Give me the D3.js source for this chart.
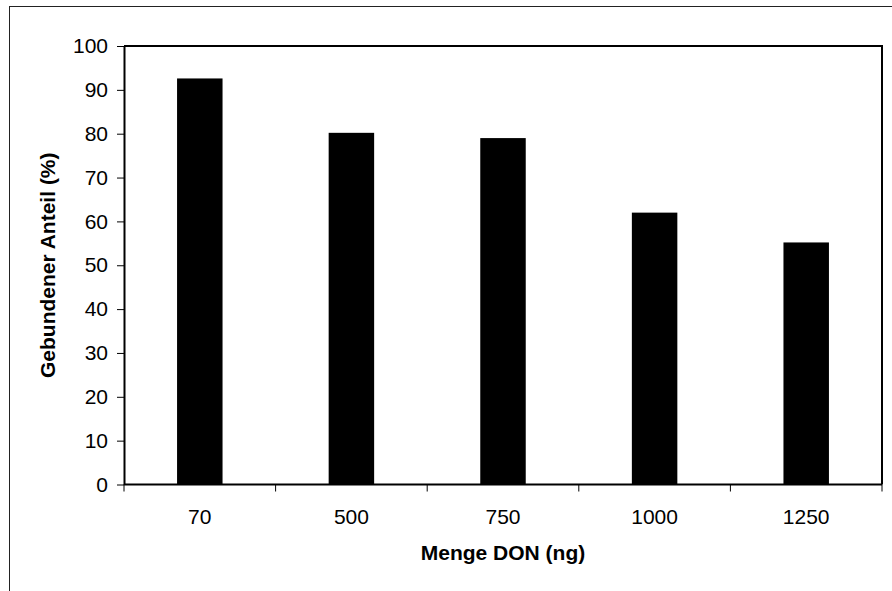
<!DOCTYPE html>
<html>
<head>
<meta charset="utf-8">
<script src="https://cdn.jsdelivr.net/npm/d3@7"></script>
<style>
  body { margin: 0; background: #fff; }
  svg { display: block; font-family: "Liberation Sans", Arial, sans-serif; }
</style>
</head>
<body>
<div id="chart"></div>
<script>
const categories = ["70", "500", "750", "1000", "1250"];
const values = [92.6, 80.2, 79.0, 62.0, 55.2];
const yTicks = [0, 10, 20, 30, 40, 50, 60, 70, 80, 90, 100];

const width = 892, height = 591;
const margin = {left: 124, top: 46, right: 10, bottom: 106.5};

const svg = d3.select("#chart").append("svg")
    .attr("width", width)
    .attr("height", height);

// outer frame, runs off the right and bottom edges
svg.append("rect")
    .attr("x", 9.5).attr("y", 6.5)
    .attr("width", 1000).attr("height", 1000)
    .attr("fill", "none")
    .attr("stroke", "#222")
    .attr("stroke-width", 1);

const x = d3.scaleBand()
    .domain(categories)
    .range([margin.left, width - margin.right])
    .paddingInner(0.7)
    .paddingOuter(0.35);

const y = d3.scaleLinear()
    .domain([0, 100])
    .range([height - margin.bottom, margin.top]);

// bars
svg.append("g")
    .selectAll("rect")
    .data(values)
    .join("rect")
    .attr("x", (d, i) => x(categories[i]))
    .attr("width", x.bandwidth())
    .attr("y", d => y(d))
    .attr("height", d => y(0) - y(d))
    .attr("fill", "#000");

// plot box top + right
svg.append("path")
    .attr("d", `M${margin.left},${y(100)}H${width - margin.right}V${y(0)}`)
    .attr("fill", "none")
    .attr("stroke", "#000")
    .attr("stroke-width", 2);

// y axis
const yAxis = svg.append("g")
    .attr("transform", `translate(${margin.left},0)`)
    .call(d3.axisLeft(y).tickValues(yTicks).tickSize(7).tickPadding(9).tickSizeOuter(0));
yAxis.select(".domain").attr("stroke-width", 2);
yAxis.selectAll(".tick line").attr("stroke-width", 1);
yAxis.selectAll("text").style("font-size", "21px").attr("fill", "#000");

// x axis: ticks at band boundaries
const xAxis = svg.append("g")
    .attr("transform", `translate(0,${y(0)})`);
xAxis.append("line")
    .attr("x1", margin.left).attr("x2", width - margin.right)
    .attr("stroke", "#000").attr("stroke-width", 2);
const bounds = categories.map(c => x(c) - x.step() * x.paddingInner() / 2)
    .concat([width - margin.right]);
xAxis.selectAll(".bt")
    .data(bounds)
    .join("line")
    .attr("x1", d => d).attr("x2", d => d)
    .attr("y1", 0).attr("y2", 7)
    .attr("stroke", "#000").attr("stroke-width", 1);
xAxis.selectAll(".lbl")
    .data(categories)
    .join("text")
    .attr("x", d => x(d) + x.bandwidth() / 2)
    .attr("y", 39)
    .attr("text-anchor", "middle")
    .style("font-size", "21px")
    .text(d => d);

// axis titles
svg.append("text")
    .attr("x", (margin.left + width - margin.right) / 2)
    .attr("y", 560)
    .attr("text-anchor", "middle")
    .style("font-size", "21px")
    .style("font-weight", "bold")
    .text("Menge DON (ng)");

svg.append("text")
    .attr("transform", `translate(55,${(y(0) + y(100)) / 2}) rotate(-90)`)
    .attr("text-anchor", "middle")
    .style("font-size", "21px")
    .style("font-weight", "bold")
    .text("Gebundener Anteil (%)");
</script>
</body>
</html>
